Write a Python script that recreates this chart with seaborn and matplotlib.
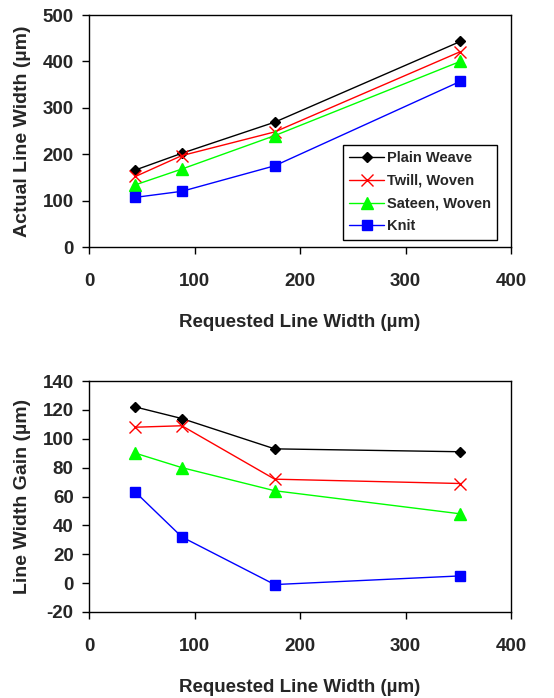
import numpy as np
import pandas as pd
import matplotlib
matplotlib.use("Agg")
import matplotlib.pyplot as plt
import seaborn as sns

requested = [44, 88, 176, 352]
fabrics = ["Plain Weave", "Twill, Woven", "Sateen, Woven", "Knit"]
actual_plain = [166, 202, 269, 443]
actual_twill = [152, 197, 248, 421]
actual_sateen = [134, 168, 240, 400]
actual_knit = [107, 120, 175, 357]
gain_plain = [122, 114, 93, 91]
gain_twill = [108, 109, 72, 69]
gain_sateen = [90, 80, 64, 48]
gain_knit = [63, 32, -1, 5]

sns.set_style("ticks")
plt.rcParams['font.family'] = ['Liberation Sans', 'DejaVu Sans']
plt.rcParams['font.weight'] = 'bold'
plt.rcParams['axes.unicode_minus'] = False

actuals = [actual_plain, actual_twill, actual_sateen, actual_knit]
gains = [gain_plain, gain_twill, gain_sateen, gain_knit]

colors = {"Plain Weave": "black", "Twill, Woven": "#FF0000",
          "Sateen, Woven": "#00FF00", "Knit": "#0000FF"}
markers = {"Plain Weave": "D", "Twill, Woven": "x",
           "Sateen, Woven": "^", "Knit": "s"}
msizes = {"Plain Weave": 5.5, "Twill, Woven": 8, "Sateen, Woven": 8.5, "Knit": 6.5}

fig = plt.figure(figsize=(5.54, 6.98), dpi=100)
W, H = 554, 698
ax1 = fig.add_axes([89 / W, 1 - 247 / H, 422 / W, 232 / H])
ax2 = fig.add_axes([89 / W, 1 - 612 / H, 422 / W, 231 / H])

for ax, series in [(ax1, actuals), (ax2, gains)]:
    for f, vals in zip(fabrics, series):
        d = pd.DataFrame({"Requested": requested, "Value": vals})
        sns.lineplot(data=d, x="Requested", y="Value", ax=ax, color=colors[f],
                     marker=markers[f], markersize=msizes[f],
                     markeredgecolor=colors[f], markerfacecolor=colors[f],
                     markeredgewidth=1, linewidth=1, label=f)
    ax.set_xlim(0, 400)
    ax.set_xticks([0, 100, 200, 300, 400])
    ax.set_xlabel("Requested Line Width (µm)", fontsize=13.5, fontweight='bold', labelpad=17)
    ax.tick_params(axis='x', pad=14, labelsize=13.5, direction='out', length=5, width=1, color='black')
    ax.tick_params(axis='y', pad=6, labelsize=13.5, direction='out', length=5, width=1, color='black')
    for lab in ax.get_xticklabels() + ax.get_yticklabels():
        lab.set_fontweight('bold')
    for s in ax.spines.values():
        s.set_color('black')
        s.set_linewidth(1)

ax1.set_ylim(0, 500)
ax1.set_yticks([0, 100, 200, 300, 400, 500])
ax1.set_ylabel("Actual Line Width (µm)", fontsize=14, fontweight='bold', labelpad=8)
ax2.set_ylim(-20, 140)
ax2.set_yticks(list(range(-20, 141, 20)))
ax2.set_ylabel("Line Width Gain (µm)", fontsize=14, fontweight='bold', labelpad=8)
if ax2.get_legend() is not None:
    ax2.get_legend().remove()

leg = ax1.legend(loc='lower right', bbox_to_anchor=(0.967, 0.03), frameon=True,
                 fancybox=False, edgecolor='black', framealpha=1,
                 prop={'weight': 'bold', 'size': 10.5}, handlelength=2.4,
                 handletextpad=0.15, borderpad=0.45, labelspacing=0.6,
                 borderaxespad=0)
leg.get_frame().set_linewidth(1)

fig.savefig("out.png", dpi=100, facecolor='white')
